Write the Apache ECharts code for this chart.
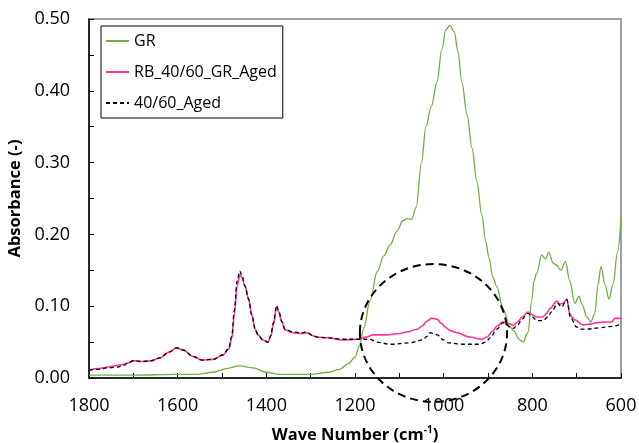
<!DOCTYPE html>
<html>
<head>
<meta charset="utf-8">
<script src="https://cdn.jsdelivr.net/npm/echarts@6/dist/echarts.min.js"></script>
<style>
  html, body { margin: 0; padding: 0; background: #fff; }
  #chart { width: 639px; height: 443px; }
</style>
</head>
<body>
<div id="chart"></div>
<script>
// FTIR spectra: wave number (cm-1) and absorbance for each sample
const grWave = [1800, 1700, 1600, 1560, 1520, 1490, 1460, 1430, 1400, 1370, 1300, 1260, 1235, 1215, 1200, 1190, 1180, 1166, 1150, 1135, 1121, 1105, 1092, 1083, 1072, 1062, 1050, 1040, 1028, 1015, 1004, 995, 986, 976, 968, 959, 947, 936, 925, 914, 905, 898, 889, 880, 866, 850, 843, 828, 821, 810, 801, 797, 790, 779, 770, 763, 753, 745, 736, 725, 716, 704, 695, 688, 677, 668, 659, 652, 645, 636, 627, 618, 608, 600];
const grAbs = [0.004, 0.004, 0.005, 0.005, 0.008, 0.013, 0.017, 0.014, 0.008, 0.005, 0.005, 0.008, 0.012, 0.020, 0.029, 0.045, 0.070, 0.108, 0.148, 0.170, 0.185, 0.205, 0.219, 0.222, 0.221, 0.238, 0.300, 0.350, 0.378, 0.412, 0.458, 0.485, 0.491, 0.482, 0.455, 0.412, 0.366, 0.320, 0.273, 0.227, 0.190, 0.168, 0.140, 0.127, 0.096, 0.071, 0.066, 0.053, 0.050, 0.063, 0.109, 0.134, 0.146, 0.171, 0.166, 0.175, 0.160, 0.157, 0.150, 0.162, 0.136, 0.104, 0.114, 0.103, 0.085, 0.078, 0.090, 0.130, 0.155, 0.130, 0.110, 0.130, 0.175, 0.222];

const rbWave = [1800, 1780, 1760, 1740, 1723, 1712, 1700, 1680, 1660, 1640, 1620, 1602, 1588, 1565, 1545, 1520, 1498, 1485, 1478, 1472, 1466, 1460, 1455, 1448, 1440, 1433, 1425, 1419, 1408, 1396, 1390, 1384, 1377, 1372, 1365, 1358, 1340, 1320, 1309, 1295, 1286, 1263, 1227, 1193, 1175, 1159, 1128, 1100, 1083, 1060, 1049, 1038, 1028, 1015, 1005, 997, 985, 970, 941, 914, 902, 890, 880, 866, 862, 850, 843, 833, 823, 810, 800, 790, 776, 768, 760, 745, 738, 731, 722, 716, 710, 704, 686, 670, 655, 640, 632, 621, 614, 603, 600];
const rbAbs = [0.011, 0.013, 0.015, 0.017, 0.019, 0.021, 0.024, 0.023, 0.024, 0.028, 0.036, 0.042, 0.039, 0.030, 0.025, 0.026, 0.032, 0.040, 0.055, 0.090, 0.128, 0.143, 0.140, 0.127, 0.110, 0.088, 0.068, 0.060, 0.053, 0.050, 0.058, 0.075, 0.098, 0.092, 0.078, 0.067, 0.063, 0.062, 0.063, 0.059, 0.057, 0.056, 0.053, 0.054, 0.057, 0.060, 0.060, 0.062, 0.064, 0.068, 0.072, 0.079, 0.083, 0.082, 0.076, 0.071, 0.066, 0.063, 0.057, 0.054, 0.057, 0.065, 0.072, 0.078, 0.078, 0.075, 0.073, 0.078, 0.085, 0.092, 0.088, 0.085, 0.085, 0.090, 0.097, 0.107, 0.103, 0.104, 0.110, 0.090, 0.084, 0.081, 0.074, 0.075, 0.077, 0.078, 0.078, 0.078, 0.083, 0.083, 0.082];

const agedWave = [1800, 1780, 1760, 1740, 1723, 1712, 1700, 1680, 1660, 1640, 1620, 1602, 1588, 1565, 1545, 1520, 1498, 1485, 1478, 1472, 1466, 1460, 1455, 1448, 1440, 1433, 1425, 1419, 1408, 1396, 1390, 1384, 1377, 1372, 1365, 1358, 1340, 1320, 1309, 1295, 1286, 1263, 1227, 1193, 1166, 1151, 1121, 1076, 1047, 1038, 1031, 1022, 1015, 1000, 990, 956, 918, 905, 895, 880, 866, 862, 850, 843, 833, 823, 810, 800, 790, 776, 765, 757, 743, 734, 722, 714, 700, 690, 677, 648, 618, 603, 600];
const agedAbs = [0.011, 0.012, 0.014, 0.015, 0.017, 0.021, 0.024, 0.023, 0.024, 0.028, 0.036, 0.042, 0.039, 0.030, 0.025, 0.026, 0.032, 0.041, 0.058, 0.095, 0.135, 0.149, 0.143, 0.128, 0.110, 0.088, 0.068, 0.060, 0.053, 0.050, 0.059, 0.077, 0.101, 0.093, 0.079, 0.068, 0.064, 0.063, 0.064, 0.059, 0.057, 0.056, 0.054, 0.054, 0.054, 0.050, 0.047, 0.049, 0.053, 0.058, 0.063, 0.062, 0.060, 0.053, 0.049, 0.047, 0.047, 0.050, 0.056, 0.068, 0.077, 0.076, 0.071, 0.069, 0.074, 0.082, 0.090, 0.085, 0.080, 0.080, 0.085, 0.092, 0.104, 0.099, 0.109, 0.084, 0.071, 0.068, 0.068, 0.070, 0.072, 0.074, 0.074];

const seriesNames = ['GR', 'RB_40/60_GR_Aged', '40/60_Aged'];

// dashed ring marking the 1000 cm-1 region, in data units
const ringCenter = [1023, 0.0627];
const ringRadius = [166, 0.096];

const zip = (xs, ys) => xs.map((x, i) => [x, ys[i]]);
const FONT = '"Open Sans", "Noto Sans", sans-serif';

const chart = echarts.init(document.getElementById('chart'), null, { renderer: 'canvas' });

chart.setOption({
  animation: false,
  backgroundColor: '#fff',
  textStyle: { fontFamily: FONT, color: '#000' },
  grid: {
    left: 89, right: 18, top: 19, bottom: 65,
    outerBoundsMode: 'none', containLabel: false,
    show: true, borderColor: '#808080', borderWidth: 1.5, backgroundColor: 'transparent'
  },
  legend: {
    orient: 'vertical',
    left: 101, top: 26,
    padding: [7, 6, 7, 4],
    itemWidth: 23, itemHeight: 14, itemGap: 15,
    itemStyle: { opacity: 0 },
    borderColor: '#000', borderWidth: 1, backgroundColor: '#fff',
    textStyle: { fontFamily: FONT, fontSize: 16, color: '#000' },
    data: seriesNames
  },
  xAxis: {
    type: 'value', inverse: true,
    min: 600, max: 1800, interval: 200,
    name: '{t|Wave Number (cm}{s|-1}{t|)}',
    nameLocation: 'middle', nameGap: 47,
    nameTextStyle: {
      rich: {
        t: { fontFamily: FONT, fontSize: 16.5, fontWeight: 'bold', color: '#000', lineHeight: 20 },
        s: { fontFamily: FONT, fontSize: 10, fontWeight: 'bold', color: '#000', lineHeight: 20, verticalAlign: 'top', padding: [0, 0, 6, 0] }
      }
    },
    axisLine: { onZero: false, lineStyle: { color: '#000', width: 1.5 } },
    axisTick: { inside: true, length: 5, lineStyle: { color: '#000', width: 1 } },
    minorTick: { show: true, splitNumber: 2, length: 5, lineStyle: { color: '#000', width: 1 } },
    axisLabel: { fontFamily: FONT, fontSize: 18, color: '#000', margin: 19, formatter: v => String(v) },
    splitLine: { show: false }
  },
  yAxis: {
    type: 'value',
    min: 0, max: 0.5, interval: 0.1,
    name: 'Absorbance (-)',
    nameLocation: 'middle', nameGap: 54,
    nameTextStyle: { fontFamily: FONT, fontSize: 16.5, fontWeight: 'bold', color: '#000' },
    axisLine: { show: true, onZero: false, lineStyle: { color: '#000', width: 1.5 } },
    axisTick: { show: true, inside: true, length: 5, lineStyle: { color: '#000', width: 1 } },
    minorTick: { show: true, splitNumber: 2, length: 5, lineStyle: { color: '#000', width: 1 } },
    axisLabel: { fontFamily: FONT, fontSize: 18, color: '#000', margin: 19, formatter: v => v.toFixed(2) },
    splitLine: { show: false }
  },
  series: [
    {
      name: seriesNames[0], type: 'line', data: zip(grWave, grAbs),
      showSymbol: false, symbol: 'none', smooth: 0.35, smoothMonotone: 'x',
      lineStyle: { color: '#70AD47', width: 1.3 }, itemStyle: { color: '#70AD47' }, z: 2
    },
    {
      name: seriesNames[1], type: 'line', data: zip(rbWave, rbAbs),
      showSymbol: false, symbol: 'none', smooth: 0.35, smoothMonotone: 'x',
      lineStyle: { color: '#FF3399', width: 1.6 }, itemStyle: { color: '#FF3399' }, z: 3
    },
    {
      name: seriesNames[2], type: 'line', data: zip(agedWave, agedAbs),
      showSymbol: false, symbol: 'none', smooth: 0.35, smoothMonotone: 'x',
      lineStyle: { color: '#000', width: 1.3, type: [4, 3] }, itemStyle: { color: '#000' }, z: 4
    }
  ]
});

// place the dashed ring using the axis scales
const c = chart.convertToPixel({ gridIndex: 0 }, ringCenter);
const e = chart.convertToPixel({ gridIndex: 0 }, [ringCenter[0] - ringRadius[0], ringCenter[1] + ringRadius[1]]);
chart.setOption({
  graphic: [{
    type: 'ellipse', z: 100, silent: true,
    shape: { cx: c[0], cy: c[1], rx: Math.abs(e[0] - c[0]), ry: Math.abs(c[1] - e[1]) },
    style: { fill: 'none', stroke: '#000', lineWidth: 2, lineDash: [8, 5] }
  }]
});
</script>
</body>
</html>
